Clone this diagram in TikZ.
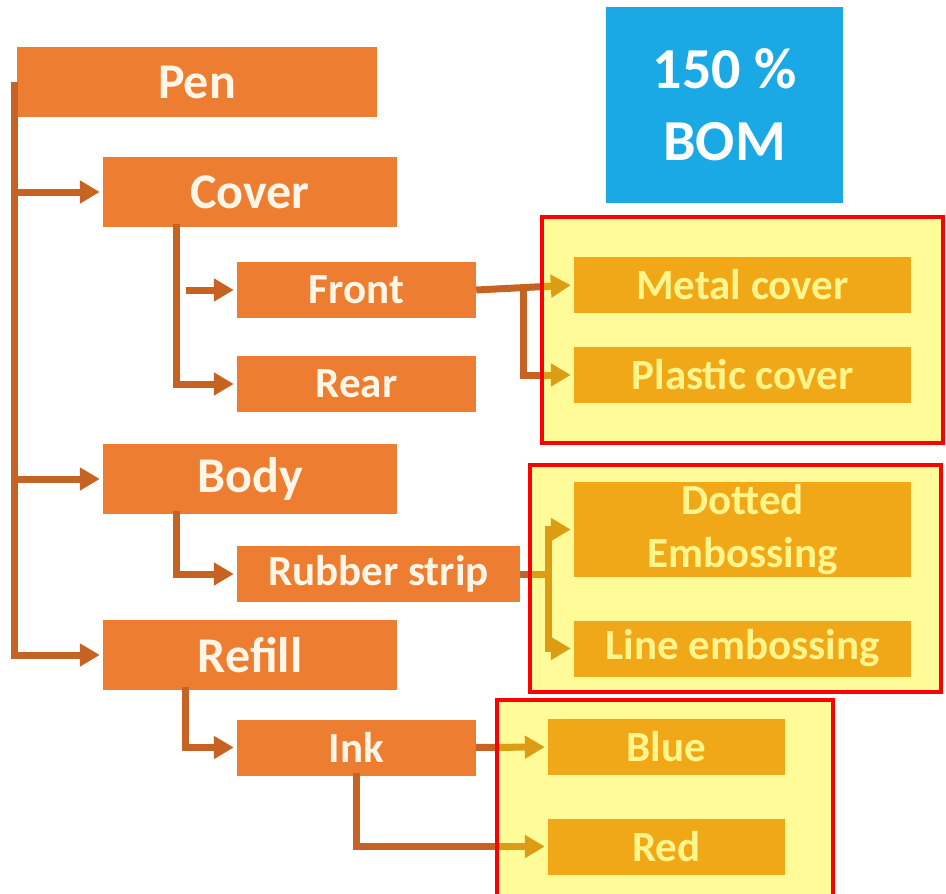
\documentclass[tikz,border=0pt]{standalone}
\usepackage{fontspec}
\setmainfont{Carlito}
\usetikzlibrary{arrows.meta}

\definecolor{bomOrange}{RGB}{237,125,49}
\definecolor{bomLeaf}{RGB}{232,118,40}
\definecolor{bomLine}{RGB}{198,98,34}
\definecolor{bomText}{RGB}{255,246,232}
\definecolor{bomBlue}{RGB}{27,169,230}
\definecolor{bomYellow}{RGB}{255,245,0}
\definecolor{bomRed}{RGB}{255,0,0}

\begin{document}
\begin{tikzpicture}[x=1pt, y=-1pt, >={Triangle[length=20pt,width=22pt]}, line join=miter]

% ---------- styles (safe names) ----------
\tikzset{
  bomTop/.style   ={fill=bomOrange, text=bomText, inner sep=0pt,
                    font=\fontsize{50}{60}\selectfont\bfseries,
                    minimum width=294pt, minimum height=70pt},
  bomSub/.style   ={fill=bomOrange, text=bomText, inner sep=0pt,
                    font=\fontsize{43}{53}\selectfont\bfseries,
                    minimum width=239pt, minimum height=56pt},
  bomLeafBox/.style={fill=bomLeaf, text=bomText, inner sep=0pt, align=center,
                    font=\fontsize{43}{53}\selectfont\bfseries,
                    minimum width=337pt, minimum height=56pt},
  bomLink/.style  ={draw=bomLine, line width=7pt, shorten >=3pt},
  hlFill/.style   ={fill=bomYellow, fill opacity=0.4},
  hlEdge/.style   ={draw=bomRed, line width=4.5pt}
}

% ---------- frame ----------
\useasboundingbox (0,0) rectangle (946,894);
\clip (0,0) rectangle (946,894);

% ---------- tree ----------
% Top level
\node[bomTop, minimum width=360pt] (pen)    at (197,82)  {Pen};
\node[bomTop]                      (cover)  at (250,192) {Cover};
\node[bomTop]                      (body)   at (250,479) {Body};
\node[bomTop]                      (refill) at (250,655) {Refill};

% Second level
\node[bomSub]                      (front)  at (356.5,290) {Front};
\node[bomSub]                      (rear)   at (356.5,384) {Rear};
\node[bomSub, minimum width=283pt] (rubber) at (378.5,574) {Rubber strip};
\node[bomSub]                      (ink)    at (356.5,747.5) {Ink};

% Variants
\node[bomLeafBox]                      (metal)   at (742.5,285)   {Metal cover};
\node[bomLeafBox]                      (plastic) at (742.5,375)   {Plastic cover};
\node[bomLeafBox, minimum height=95pt] (dotted)  at (742.5,529.5) {Dotted\\Embossing};
\node[bomLeafBox]                      (lineEmb) at (742.5,648.5) {Line embossing};
\node[bomLeafBox, minimum width=237pt] (blue)    at (666.5,747)   {Blue};
\node[bomLeafBox, minimum width=237pt] (red)     at (666.5,846.5) {Red};

% Percentage tag
\node[fill=bomBlue, text=white, inner sep=0pt, align=center,
      font=\fontsize{58}{72}\selectfont\bfseries,
      minimum width=237pt, minimum height=196pt] (bom) at (724.5,105) {150 \%\\BOM};

% ---------- connectors ----------
\coordinate (trunk) at ([xshift=-2pt]pen.west);
\draw[bomLink, ->] (trunk) |- (refill.west);
\draw[bomLink, ->] (trunk |- cover.west) -- (cover.west);
\draw[bomLink, ->] (trunk |- body.west)  -- (body.west);

% Cover branch
\coordinate (coverDrop) at ([xshift=-74pt, yshift=3pt]cover.south);
\coordinate (frontTail) at ([xshift=-51pt]front.west);
\draw[bomLink, ->] (coverDrop) |- (rear.west);
\draw[bomLink, ->] (frontTail) -- (front.west);

% Body and refill branches
\draw[bomLink, ->] ([xshift=-74pt, yshift=3pt]body.south) |- (rubber.west);
\draw[bomLink, ->] ([xshift=-65pt, yshift=3pt]refill.south) |- (ink.west);

% Variant links
\coordinate (frontFork)  at ([xshift=47pt]front.east);
\coordinate (rubberFork) at ([xshift=28pt]rubber.east);
\draw[bomLink, ->] (front.east) -- (metal.west);
\draw[bomLink, ->] (frontFork) |- (plastic.west);
\draw[bomLink, shorten >=0pt] (rubber.east) -- (rubberFork);
\draw[bomLink, ->] (rubberFork) |- (dotted.west);
\draw[bomLink, ->] (rubberFork) |- (lineEmb.west);
\draw[bomLink, ->] (ink.east) -- (blue.west);
\draw[bomLink, ->] ([yshift=3pt]ink.south) |- (red.west);

% ---------- highlight groups ----------
\path[hlFill] (542,217) rectangle (943,443);
\path[hlFill] (530,465) rectangle (941,692);
\path[hlFill] (497,700) rectangle (833,910);
\draw[hlEdge] (542,217) rectangle (943,443);
\draw[hlEdge] (530,465) rectangle (941,692);
\draw[hlEdge] (497,700) rectangle (833,910);

\end{tikzpicture}
\end{document}
